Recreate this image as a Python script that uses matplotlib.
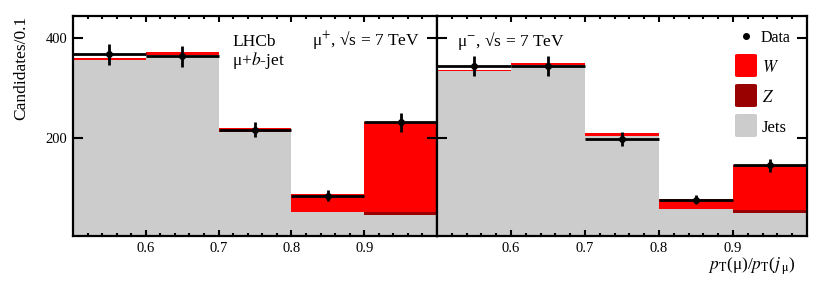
import matplotlib
matplotlib.use("Agg")
import matplotlib.pyplot as plt
import numpy as np
from matplotlib.patches import FancyBboxPatch
from matplotlib.lines import Line2D

plt.rcParams['font.family'] = ['Liberation Serif', 'DejaVu Serif']
plt.rcParams['mathtext.fontset'] = 'stix'

bin_lo = [0.5, 0.6, 0.7, 0.8, 0.9]
bin_centers = [0.55, 0.65, 0.75, 0.85, 0.95]

# mu+ panel
jets_p = [356, 366, 212, 51, 44]
z_p = [0, 0, 0, 0, 6]
w_p = [4, 7, 8, 35, 181]
data_p = [368, 364, 216, 83, 231]
err_p = [21, 21, 15, 11, 19]

# mu- panel
jets_m = [334, 347, 203, 57, 48]
z_m = [0, 0, 0, 0, 7]
w_m = [3, 4, 6, 20, 90]
data_m = [345, 345, 197, 75, 144]
err_m = [20, 20, 14, 9, 14]

xticks = [0.6, 0.7, 0.8, 0.9]
yticks = [200, 400]

legend_labels = ['Data', r'$W$', r'$Z$', 'Jets']

C_W = '#ff0000'
C_Z = '#990000'
C_J = '#cccccc'

W, H = 828, 281
fig = plt.figure(figsize=(W / 100, H / 100), dpi=100)
axL = fig.add_axes([73 / W, (H - 236) / H, 364 / W, 220 / H])
axR = fig.add_axes([437 / W, (H - 236) / H, 370 / W, 220 / H])


def fx(px):
    return px / W


def fy(py):
    return (H - py) / H


def draw(ax, jets, z, w, data, err):
    jets = np.array(jets, float)
    z = np.array(z, float)
    w = np.array(w, float)
    ax.bar(bin_lo, jets, width=0.1, align='edge', color=C_J, lw=0)
    ax.bar(bin_lo, z, width=0.1, align='edge', bottom=jets, color=C_Z, lw=0)
    ax.bar(bin_lo, w, width=0.1, align='edge', bottom=jets + z, color=C_W, lw=0)
    ax.errorbar(bin_centers, data, yerr=err, xerr=0.05, fmt='o', color='black',
                ms=4, elinewidth=2, capsize=0, zorder=5)
    ax.set_xlim(0.5, 1.0)
    ax.set_ylim(2, 445)
    ax.set_xticks(xticks)
    ax.set_xticks(np.arange(0.52, 1.0, 0.02), minor=True)
    ax.set_xticklabels([f"{t:.1f}" for t in xticks])
    ax.set_yticks(yticks)
    ax.tick_params(axis='both', which='both', direction='in', top=True, right=True,
                   width=1.5, labelsize=10.5, pad=4)
    ax.tick_params(axis='y', which='major', length=7.5)
    ax.tick_params(axis='x', which='major', length=4.5)
    ax.tick_params(axis='x', which='minor', length=2.2)
    for s in ax.spines.values():
        s.set_linewidth(1.6)


draw(axL, jets_p, z_p, w_p, data_p, err_p)
draw(axR, jets_m, z_m, w_m, data_m, err_m)
axR.tick_params(axis='y', labelleft=False)

axL.set_ylabel('Candidates/0.1', fontsize=12.5)
axL.yaxis.set_label_coords(-0.121, 0.766)

fs = 12.5
fig.text(fx(232), fy(46), 'LHCb', fontsize=fs, va='baseline', ha='left')
fig.text(fx(232), fy(65), r'μ+$b$-jet', fontsize=fs, va='baseline', ha='left')
fig.text(fx(312), fy(45), 'μ$^{+}$, √s = 7 TeV', fontsize=fs, va='baseline', ha='left')
fig.text(fx(457), fy(46), 'μ$^{-}$, √s = 7 TeV', fontsize=fs, va='baseline', ha='left')

# legend (manual)
lfs = 11.5
fig.add_artist(Line2D([fx(746)], [fy(36)], marker='o', color='black', ms=4, ls='none'))
fig.text(fx(761), fy(36), legend_labels[0], fontsize=lfs, va='center_baseline', ha='left')
box_cols = [C_W, C_Z, C_J]
box_tops = [54, 84, 114]
for lab, col, top in zip(legend_labels[1:], box_cols, box_tops):
    x0, x1 = 735, 757
    y0, y1 = top, top + 23
    p = FancyBboxPatch((fx(x0), fy(y1)), fx(x1) - fx(x0), fy(y0) - fy(y1),
                       boxstyle='round,pad=0,rounding_size=0.004',
                       transform=fig.transFigure, facecolor=col, edgecolor='none')
    fig.add_artist(p)
    fig.text(fx(762), fy((y0 + y1) / 2), lab, fontsize=lfs + 0.5, va='center_baseline', ha='left')

fig.text(fx(795), fy(270), r'$p_{\mathrm{T}}$(μ)/$p_{\mathrm{T}}$($j_{\,\mathrm{μ}}$)',
         fontsize=12.5, ha='right', va='baseline')

fig.savefig('out.png', dpi=100)
